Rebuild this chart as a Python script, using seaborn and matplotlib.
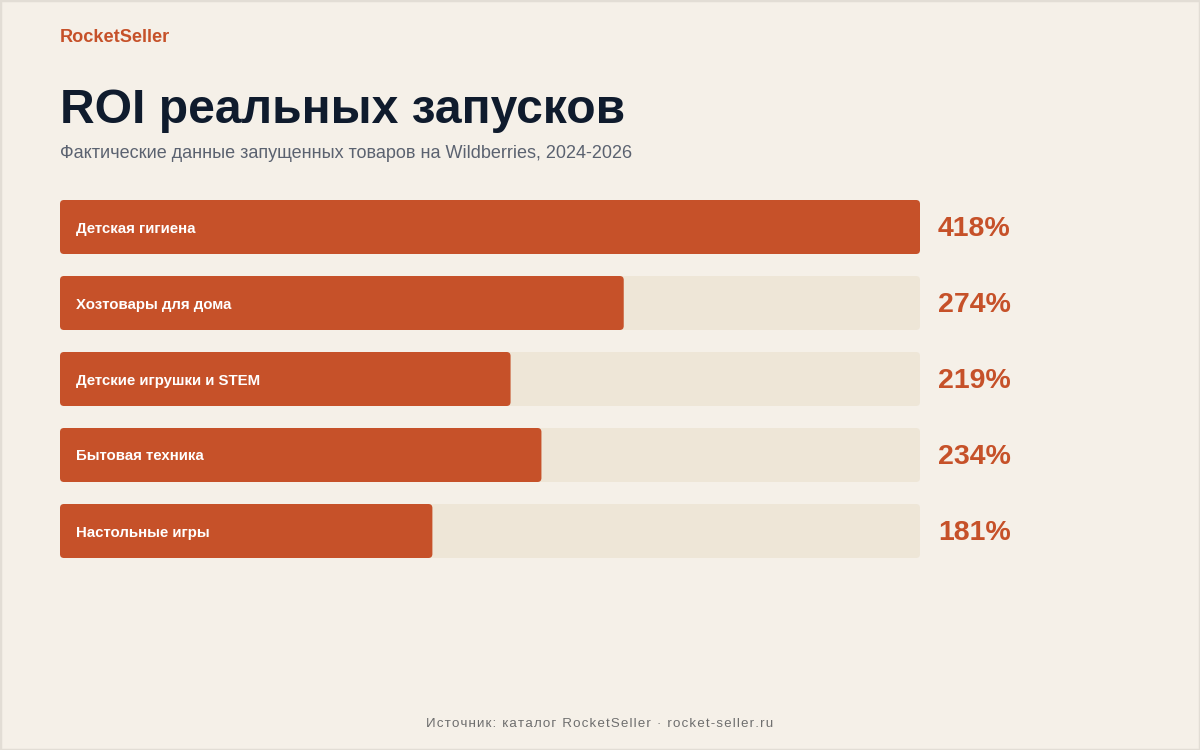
import matplotlib
matplotlib.use("Agg")
import matplotlib.pyplot as plt
from matplotlib.patches import FancyBboxPatch, Rectangle
import pandas as pd
import seaborn as sns

#%% Data
categories = [
    "Детская гигиена",
    "Хозтовары для дома",
    "Детские игрушки и STEM",
    "Бытовая техника",
    "Настольные игры",
]
roi_values = [418, 274, 219, 234, 181]
value_labels = [f"{v}%" for v in roi_values]

brand = "RocketSeller"
title = "ROI реальных запусков"
subtitle = "Фактические данные запущенных товаров на Wildberries, 2024-2026"
footer = "Источник: каталог RocketSeller · rocket-seller.ru"

#%% Styling
bg = "#F5F0E8"
bar_color = "#C65129"
track_color = "#EEE6D7"
title_color = "#0F1B2D"
sub_color = "#5B6270"
foot_color = "#6E6E6E"

sns.set_theme(style="white")
plt.rcParams["font.family"] = ["Liberation Sans", "DejaVu Sans"]

W, H = 1200, 750
fig = plt.figure(figsize=(12, 7.5), dpi=100, facecolor=bg)

# axes spans the bar area: x 60..920 px, y 200..558 px
ax = fig.add_axes([60 / W, (H - 558) / H, 860 / W, 358 / H])
ax.set_facecolor(bg)

data = pd.DataFrame({"category": categories, "roi": roi_values})
data["track"] = max(roi_values)

bar_w = 54 / 76
sns.barplot(data=data, y="category", x="track", color=track_color,
            width=bar_w, ax=ax, saturation=1, orient="h")
sns.barplot(data=data, y="category", x="roi", color=bar_color,
            width=bar_w, ax=ax, saturation=1, orient="h")

xmax = max(roi_values)
ax.set_xlim(0, xmax)
ax.set_ylim(len(categories) - 1 + bar_w / 2, -bar_w / 2)

# swap the plain rectangles for rounded ones
px_x = xmax / 860          # data units per pixel, x
px_y = (len(categories) - 1 + bar_w) / 358   # data units per pixel, y
radius_px = 4
for p in list(ax.patches):
    x0, y0, w, h = p.get_x(), p.get_y(), p.get_width(), p.get_height()
    fc = p.get_facecolor()
    p.set_visible(False)
    rb = FancyBboxPatch((x0, y0), w, h,
                        boxstyle=f"round,pad=0,rounding_size={radius_px * px_x}",
                        mutation_aspect=px_y / px_x,
                        facecolor=fc, edgecolor="none", zorder=p.get_zorder())
    ax.add_patch(rb)

# labels inside the bars and values to the right
for i, (cat, lab) in enumerate(zip(categories, value_labels)):
    ax.annotate(cat, xy=(0, i), xytext=(16 * 0.72, -1.5 * 0.72), textcoords="offset points",
                ha="left", va="center", color="white", fontsize=10.8,
                fontweight="bold")
    ax.annotate(lab, xy=(xmax, i), xytext=(18 * 0.72, -2.5 * 0.72), textcoords="offset points",
                ha="left", va="center", color=bar_color, fontsize=20.5,
                fontweight="bold", annotation_clip=False)

ax.set_xlabel("")
ax.set_ylabel("")
ax.set_xticks([])
ax.set_yticks([])
sns.despine(ax=ax, left=True, bottom=True)

# header texts
fig.text(60 / W, 1 - 42 / H, brand, ha="left", va="baseline",
         color=bar_color, fontsize=13.1, fontweight="bold")
fig.text(60 / W, 1 - 123 / H, title, ha="left", va="baseline",
         color=title_color, fontsize=34.6, fontweight="bold")
fig.text(60 / W, 1 - 153 / H, subtitle, ha="left", va="center",
         color=sub_color, fontsize=13)

# footer
fig.text(0.5, 1 - 724 / H, "\u200a".join(footer), ha="center", va="center",
         color=foot_color, fontsize=9.6)

# frame
fig.patches.append(Rectangle((0, 0), 1, 1, transform=fig.transFigure,
                             facecolor="none", edgecolor="#E2DDD5",
                             linewidth=2.5, zorder=10))

fig.savefig("out.png", dpi=100, facecolor=bg)
